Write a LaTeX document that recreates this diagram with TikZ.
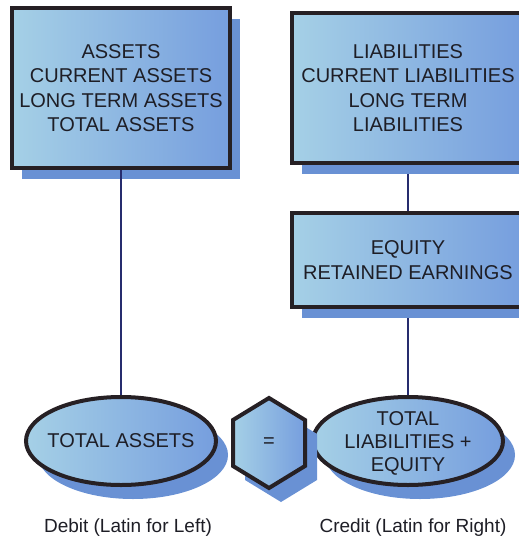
\documentclass[tikz,border=0pt]{standalone}
\usepackage{fontspec}
\setmainfont{Liberation Sans}
\usetikzlibrary{shapes.geometric,shadows}
\definecolor{boxlight}{RGB}{165,208,230}
\definecolor{boxblue}{RGB}{118,158,222}
\definecolor{shadowblue}{RGB}{105,145,212}
\definecolor{edgedark}{RGB}{38,32,36}
\definecolor{linknavy}{RGB}{38,44,110}
\definecolor{txt}{RGB}{30,30,38}
\tikzset{
  boxfill/.style={left color=boxlight, right color=boxblue, draw=edgedark, line width=4pt},
  acctbox/.style={boxfill, rectangle, inner sep=0pt, text=txt, align=center,
    font=\fontsize{20}{24.5}\selectfont,
    drop shadow={shadow xshift=10pt, shadow yshift=-11pt, fill=shadowblue, opacity=1}},
  ovalbox/.style={boxfill, ellipse, inner sep=0pt, minimum width=190pt, minimum height=88pt,
    drop shadow={shadow xshift=12pt, shadow yshift=-14pt, fill=shadowblue, opacity=1}},
  ovaltext/.style={text=txt, align=center, inner sep=0pt, font=\fontsize{20}{23}\selectfont},
  hexbox/.style={boxfill,
    drop shadow={shadow xshift=12pt, shadow yshift=-14pt, fill=shadowblue, opacity=1}},
  link/.style={draw=linknavy, line width=1.8pt},
  caption/.style={text=txt, inner sep=0pt, font=\fontsize{19}{22}\selectfont}
}
\begin{document}
\begin{tikzpicture}[x=1pt,y=-1pt]
\useasboundingbox (0,0) rectangle (519,544);
\begin{scope}
\clip (0,0) rectangle (519,544);
% connectors (drawn first, behind shapes)
\coordinate (lt) at (121,168);
\coordinate (lb) at (121,398);
\draw[link] (lt) -- (lb);
\coordinate (r1) at (408,163);
\coordinate (r2) at (408,213);
\coordinate (r3) at (408,307);
\coordinate (r4) at (408,397);
\draw[link] (r1) -- (r2);
\draw[link] (r3) -- (r4);
% boxes
\node[acctbox, minimum width=218pt, minimum height=160pt] (assets) at (121,88)
  {ASSETS\\CURRENT ASSETS\\LONG TERM ASSETS\\TOTAL ASSETS};
\node[acctbox, minimum width=232pt, minimum height=150pt] (liab) at (408,88)
  {LIABILITIES\\CURRENT LIABILITIES\\LONG TERM\\LIABILITIES};
\node[acctbox, minimum width=232pt, minimum height=94pt] (equity) at (408,260)
  {EQUITY\\RETAINED EARNINGS};
\draw[link] (assets.south) -- (lb);
% ellipses
\node[ovalbox] (ta) at (121,441) {};
\node[ovaltext] (tatext) at (ta.center) {TOTAL ASSETS};
\node[ovalbox] (tle) at (408,441) {};
\node[ovaltext, yshift=-2pt] (tletext) at (tle.center) {TOTAL\\LIABILITIES +\\EQUITY};
% hexagon
\coordinate (hc) at (269,443);
\path[hexbox] (269,398) -- (305,420) -- (305,466) -- (269,488) -- (233,466) -- (233,420) -- cycle;
\node[ovaltext] (eq) at (hc) {=};
% captions
\node[caption] (debit) at (128,528) {Debit (Latin for Left)};
\node[caption] (credit) at (413,528) {Credit (Latin for Right)};
\end{scope}
\end{tikzpicture}
\end{document}
